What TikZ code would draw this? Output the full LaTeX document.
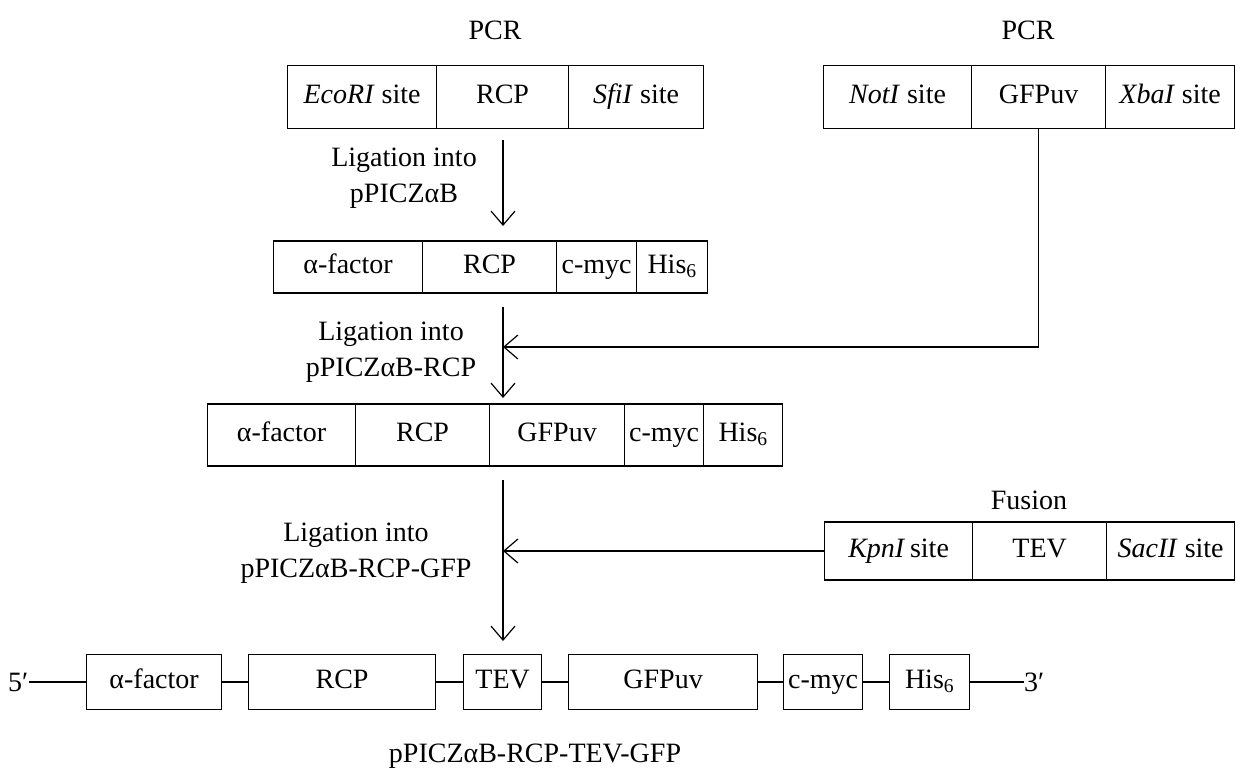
\documentclass[tikz,border=0pt]{standalone}
\usepackage{fontspec}
\setmainfont{Liberation Serif}
\usetikzlibrary{arrows.meta}
\begin{document}
\begin{tikzpicture}[x=1pt,y=-1pt,
  every node/.style={font=\fontsize{28}{36}\selectfont},
  cell/.style={draw, line width=1.2pt, inner sep=0pt, anchor=west,
    text height=19pt, text depth=6pt, minimum height=#1},
  cell/.default=60pt,
  lbl/.style={align=center, inner sep=0pt},
  link/.style={line width=1.2pt},
  arr/.style={line width=1.2pt, -{Straight Barb[length=14pt,width=24pt,line width=1.2pt]}}
]
\useasboundingbox (0,0) rectangle (1236,776);

% PCR products
\node[lbl] (pcrA) at (495,30) {PCR};
\node[lbl] (pcrB) at (1028,30) {PCR};

\node[cell=63pt, minimum width=149pt] (ecori) at (287,97) {\textit{EcoRI} site};
\node[cell=63pt, minimum width=132pt] (rcpA) at (436,97) {RCP};
\node[cell=63pt, minimum width=135pt] (sfii) at (568,97) {\textit{SfiI} site};

\node[cell=63pt, minimum width=148pt] (noti) at (823,97) {\textit{NotI} site};
\node[cell=63pt, minimum width=134pt] (gfpA) at (971,97) {GFPuv};
\node[cell=63pt, minimum width=129pt] (xbai) at (1105,97) {\textit{XbaI} site};

% pPICZaB-RCP
\node[cell=52pt, minimum width=149pt] (alfB) at (273,267) {α-factor};
\node[cell=52pt, minimum width=134pt] (rcpB) at (422,267) {RCP};
\node[cell=52pt, minimum width=80pt] (mycB) at (556,267) {c-myc};
\node[cell=52pt, minimum width=71pt] (hisB) at (636,267) {His\textsubscript{6}};

% pPICZaB-RCP-GFP
\node[cell=62pt, minimum width=148pt] (alfC) at (207,435) {α-factor};
\node[cell=62pt, minimum width=134pt] (rcpC) at (355,435) {RCP};
\node[cell=62pt, minimum width=135pt] (gfpC) at (489,435) {GFPuv};
\node[cell=62pt, minimum width=79pt] (mycC) at (624,435) {c-myc};
\node[cell=62pt, minimum width=79pt] (hisC) at (703,435) {His\textsubscript{6}};

% TEV fusion fragment
\node[lbl] (fusion) at (1029,500) {Fusion};
\node[cell=58pt, minimum width=148pt] (kpni) at (824,551) {\textit{KpnI}\,site};
\node[cell=58pt, minimum width=134pt] (tevA) at (972,551) {TEV};
\node[cell=58pt, minimum width=128pt] (sacii) at (1106,551) {\textit{SacII} site};

% final construct
\node[lbl, anchor=west] (p5) at (8,682) {5′};
\node[cell=55pt, minimum width=135pt] (alfD) at (86,682) {α-factor};
\node[cell=55pt, minimum width=187pt] (rcpD) at (248,682) {RCP};
\node[cell=55pt, minimum width=78pt] (tevD) at (463,682) {TEV};
\node[cell=55pt, minimum width=189pt] (gfpD) at (568,682) {GFPuv};
\node[cell=55pt, minimum width=79pt] (mycD) at (783,682) {c-myc};
\node[cell=55pt, minimum width=80pt] (hisD) at (889,682) {His\textsubscript{6}};
\node[lbl, anchor=west] (p3) at (1024,682) {3′};

\draw[link] (p5.east) -- (alfD.west);
\draw[link] (alfD.east) -- (rcpD.west);
\draw[link] (rcpD.east) -- (tevD.west);
\draw[link] (tevD.east) -- (gfpD.west);
\draw[link] (gfpD.east) -- (mycD.west);
\draw[link] (mycD.east) -- (hisD.west);
\draw[link] (hisD.east) -- (p3.west);

\node[lbl] (final) at (535,756) {pPICZαB-RCP-TEV-GFP};

% ligation steps
\node[lbl] (ligA) at (404,178) {Ligation into\\pPICZαB};
\node[lbl] (ligB) at (391,352) {Ligation into\\pPICZαB-RCP};
\node[lbl] (ligC) at (356,553) {Ligation into\\pPICZαB-RCP-GFP};

\coordinate (s1) at (503,140);
\coordinate (e1) at (503,226);
\coordinate (s2) at (503,307);
\coordinate (e2) at (503,398);
\coordinate (j2) at (503,347);
\coordinate (s3) at (503,480);
\coordinate (e3) at (503,641);
\coordinate (j3) at (503,551);

\draw[arr] (s1) -- (e1);
\draw[arr] (s2) -- (e2);
\draw[arr] (s3) -- (e3);
\draw[arr] (gfpA.south) |- (j2);
\draw[arr] (kpni.west) -- (j3);
\end{tikzpicture}
\end{document}
